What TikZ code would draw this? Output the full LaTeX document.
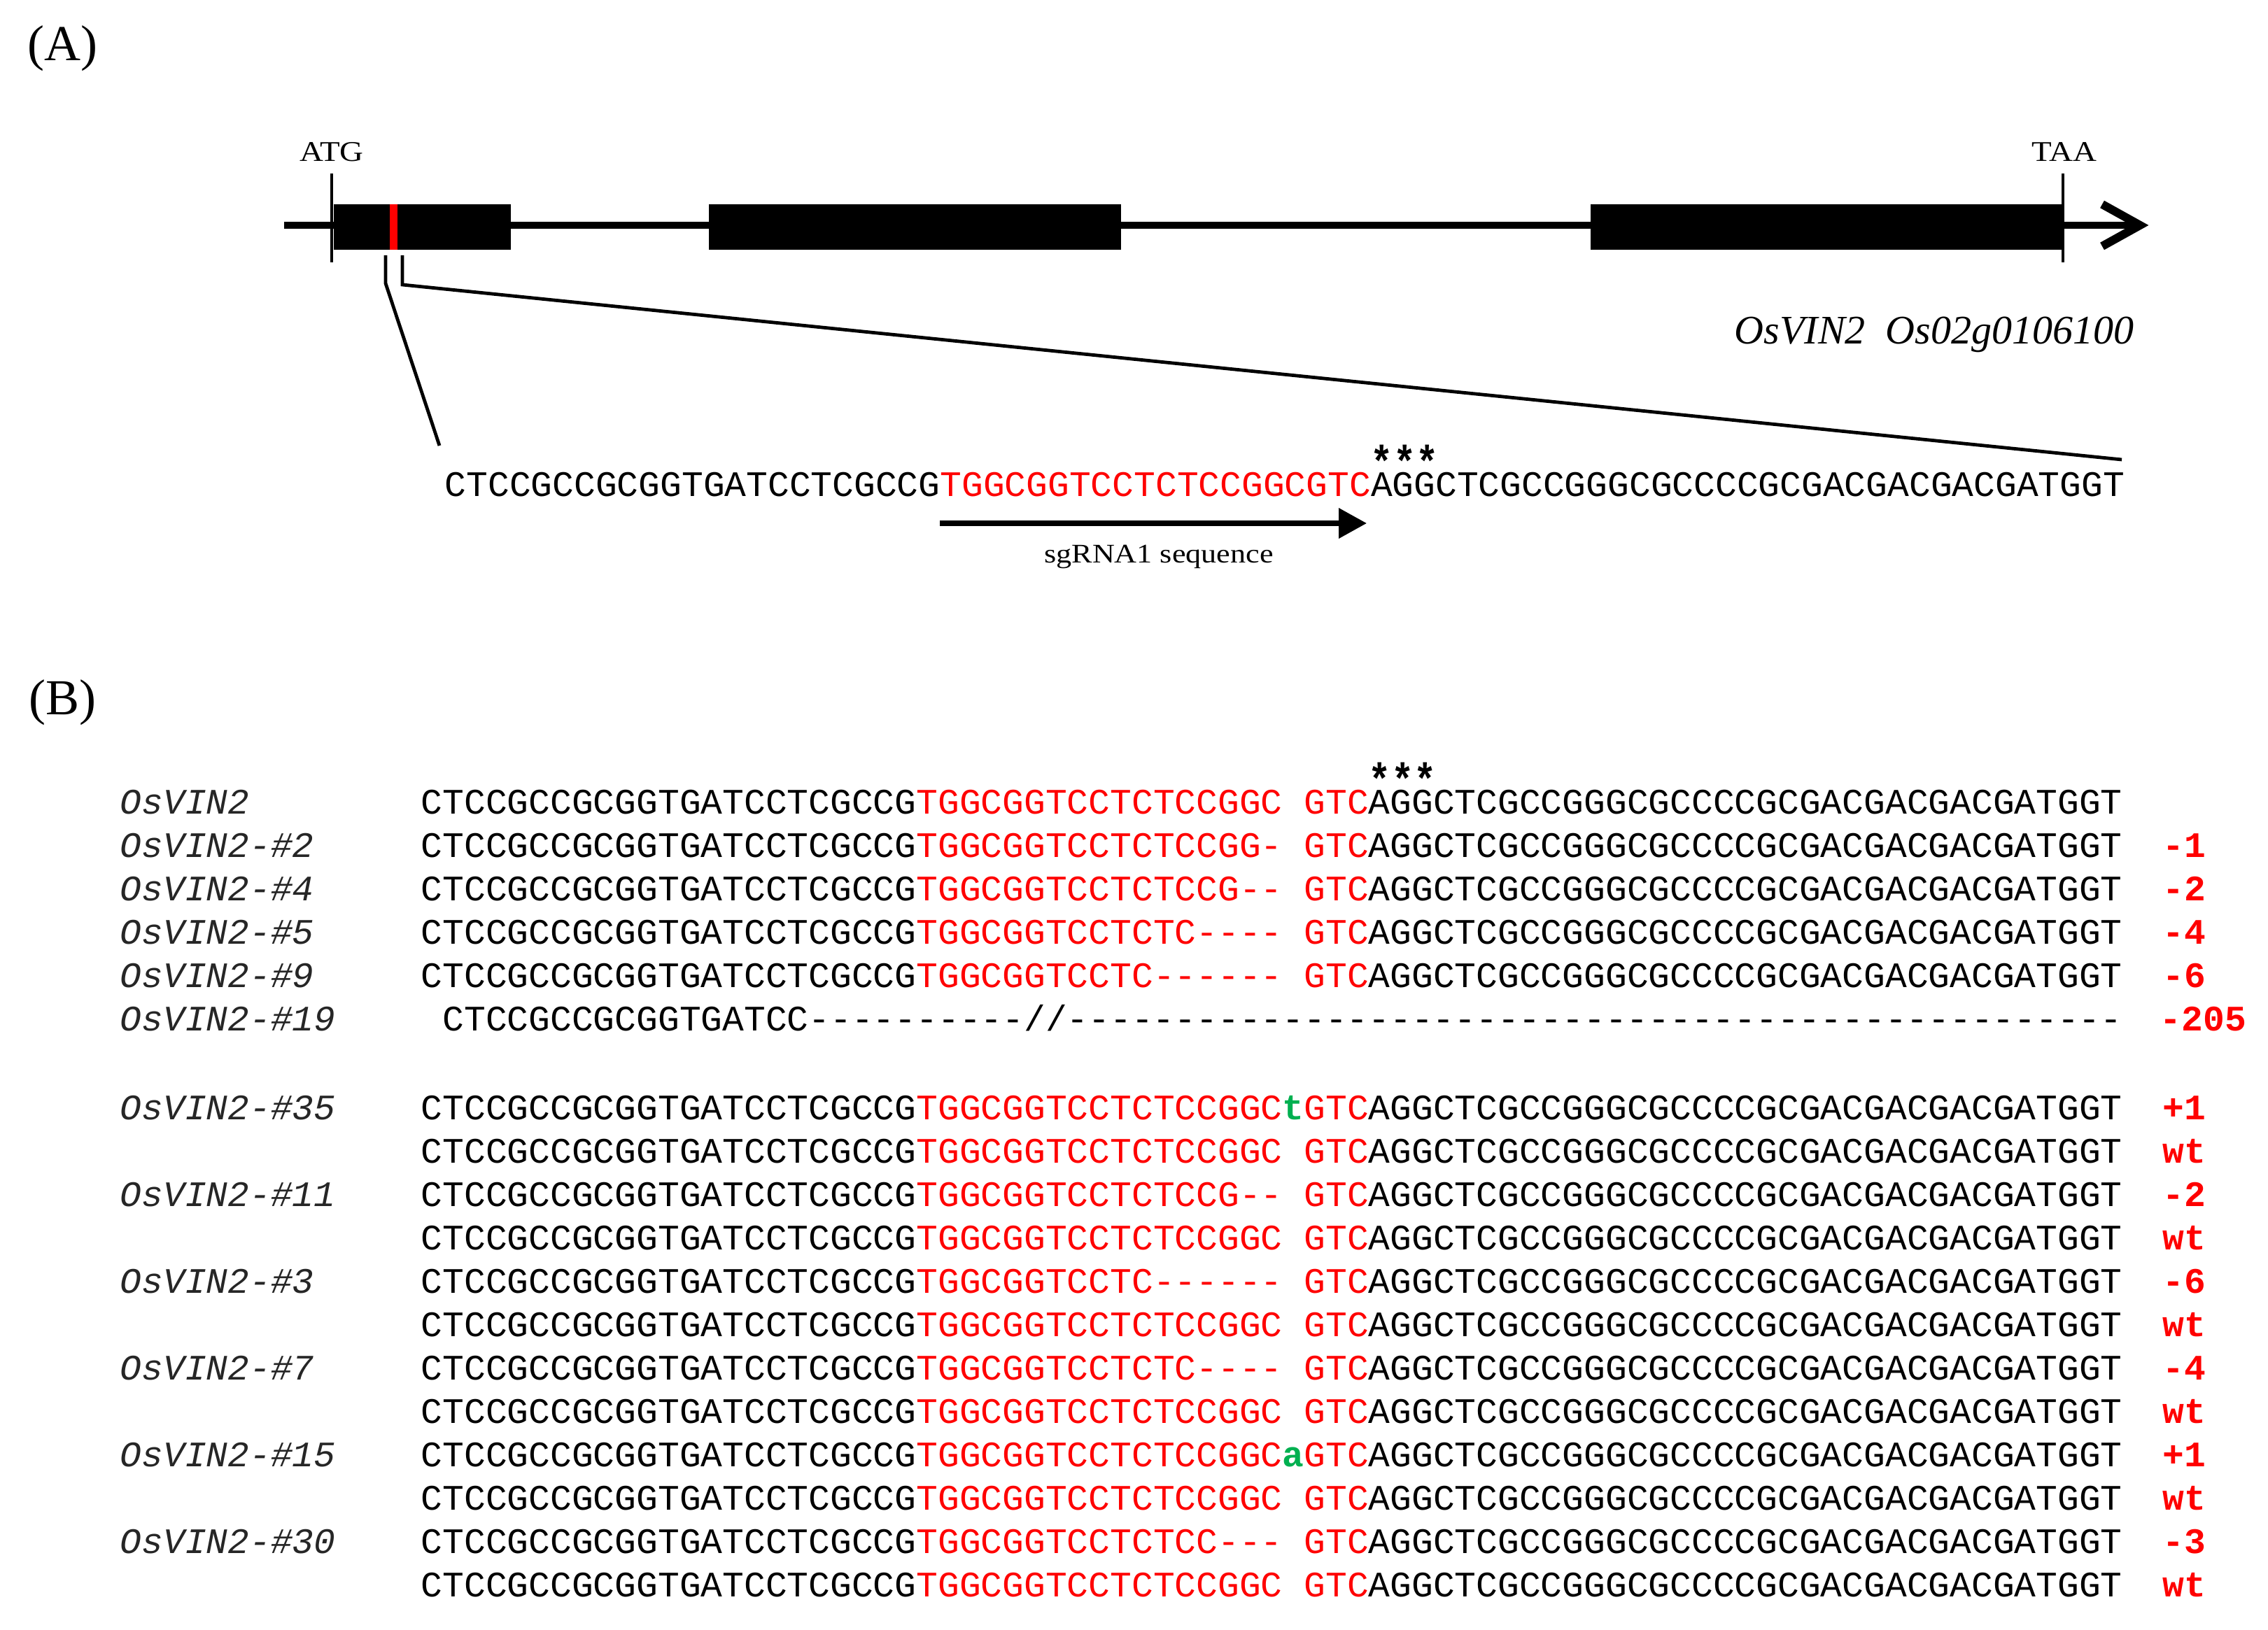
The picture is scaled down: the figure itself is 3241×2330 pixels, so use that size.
\documentclass[tikz,border=0pt]{standalone}
\usepackage{fontspec}
\usepackage{graphicx}
\setmainfont{Liberation Serif}
\setmonofont{Liberation Mono}
\newfontfamily\serifwide[FakeStretch=1.15]{Liberation Serif}
\usetikzlibrary{arrows.meta}
\definecolor{seqred}{RGB}{255,0,0}
\definecolor{insgreen}{RGB}{0,176,80}
\newcommand\Rd[1]{\textcolor{seqred}{#1}}
\newcommand\Gn[1]{\textcolor{insgreen}{\bfseries #1}}
\newcommand\gap{\hphantom{C}}
\newcommand\dsh{\mbox{-}}
\newcommand\dashes[1]{\foreach \i in {1,...,#1}{\dsh}}
\newcommand\seqpre{CTCCGCCGCGGTGATCCTCGCCG}
\newcommand\seqpost{AGGCTCGCCGGGCGCCCCGCGACGACGACGATGGT}
\newcommand\seqrow[1]{\seqpre\Rd{#1}\Rd{GTC}\seqpost}
\newcommand\stars{\scalebox{1.05}[1.25]{***}}
\begin{document}
\begin{tikzpicture}[x=0.25pt,y=-0.25pt,
  seq/.style={font=\ttfamily\fontsize{12.82pt}{14pt}\selectfont, anchor=base west, inner sep=0pt},
  lname/.style={font=\ttfamily\itshape\fontsize{12.82pt}{14pt}\selectfont, anchor=base west, inner sep=0pt, text=black!85},
  mut/.style={font=\ttfamily\bfseries\fontsize{12.82pt}{14pt}\selectfont, anchor=base west, inner sep=0pt, text=seqred},
  star/.style={font=\ttfamily\bfseries\fontsize{12.82pt}{14pt}\selectfont, anchor=base west, inner sep=0pt},
  small/.style={font=\serifwide\fontsize{10.2pt}{12pt}\selectfont, anchor=base, inner sep=0pt},
  sgstyle/.style={font=\serifwide\fontsize{9.6pt}{11pt}\selectfont, anchor=base, inner sep=0pt},
  panel/.style={font=\fontsize{18pt}{20pt}\selectfont, anchor=base west, inner sep=0pt},
  exon/.style={fill=black},
  tick/.style={line width=1pt},
  zoomline/.style={line width=1.2pt}]
\useasboundingbox (0,0) rectangle (3241,2330);

% panel labels
\node[panel] (pA) at (39,87) {(A)};
\node[panel] (pB) at (41,1021) {(B)};

% gene structure
\coordinate (bbL) at (406,322);
\coordinate (bbR) at (3056,322);
\draw[line width=2.6pt] (bbL) -- (bbR);
\draw[line width=3pt, line join=miter] (3004,292) -- (3058,322) -- (3004,352);
\fill[exon] (477,292) rectangle (730,357);
\fill[exon] (1013,292) rectangle (1602,357);
\fill[exon] (2273,292) rectangle (2946,357);
\fill[seqred] (557,292) rectangle (568,357);
\coordinate (atgT) at (474,248);
\coordinate (atgB) at (474,375);
\coordinate (taaT) at (2948,248);
\coordinate (taaB) at (2948,375);
\draw[tick] (atgT) -- (atgB);
\draw[tick] (taaT) -- (taaB);
\node[small] (atg) at (474,231) {ATG};
\node[small] (taa) at (2950,231) {TAA};
\node[font=\itshape\fontsize{14.5pt}{16pt}\selectfont, anchor=base, inner sep=0pt] (gname) at (2764,492) {OsVIN2\ \ Os02g0106100};

% zoom lines
\coordinate (zl1) at (551,365);
\coordinate (zl2) at (551,405);
\coordinate (zl3) at (628,637);
\coordinate (zr1) at (575,365);
\coordinate (zr2) at (575,407);
\coordinate (zr3) at (3032,657);
\draw[zoomline] (zl1) -- (zl2) -- (zl3);
\draw[zoomline] (zr1) -- (zr2) -- (zr3);

% panel A sequence
\node[seq] (seqA) at (635,710) {\seqpre\Rd{TGGCGGTCCTCTCCGGCGTC}\seqpost};
\node[star] (starA) at (1958,683) {\stars};
\coordinate (sgL) at (1343,748);
\coordinate (sgR) at (1953,748);
\draw[line width=1.8pt, -{Triangle[length=10pt,width=10.5pt]}] (sgL) -- (sgR);
\node[sgstyle] (sgtext) at (1656,805) {sgRNA1 sequence};

% panel B
\node[star] (starB) at (1955,1136) {\stars};

\node[lname] (n0) at (171,1163) {OsVIN2};
\node[seq] (r0) at (601,1163) {\seqrow{TGGCGGTCCTCTCCGGC\gap}};

\node[lname] (n1) at (171,1225) {OsVIN2-\#2};
\node[seq] (r1) at (601,1225) {\seqrow{TGGCGGTCCTCTCCGG\dashes{1}\gap}};
\node[mut] (m1) at (3090,1225) {-1};

\node[lname] (n2) at (171,1287) {OsVIN2-\#4};
\node[seq] (r2) at (601,1287) {\seqrow{TGGCGGTCCTCTCCG\dashes{2}\gap}};
\node[mut] (m2) at (3090,1287) {-2};

\node[lname] (n3) at (171,1349) {OsVIN2-\#5};
\node[seq] (r3) at (601,1349) {\seqrow{TGGCGGTCCTCTC\dashes{4}\gap}};
\node[mut] (m3) at (3090,1349) {-4};

\node[lname] (n4) at (171,1411) {OsVIN2-\#9};
\node[seq] (r4) at (601,1411) {\seqrow{TGGCGGTCCTC\dashes{6}\gap}};
\node[mut] (m4) at (3090,1411) {-6};

\node[lname] (n5) at (171,1473) {OsVIN2-\#19};
\node[seq] (r5) at (601,1473) {\gap CTCCGCCGCGGTGATCC\dashes{10}//\dashes{49}};
\node[mut] (m5) at (3086,1473) {-205};

% group 2
\node[lname] (n6) at (171,1600) {OsVIN2-\#35};
\node[seq] (r6) at (601,1600) {\seqrow{TGGCGGTCCTCTCCGGC\Gn{t}}};
\node[mut] (m6) at (3090,1600) {+1};
\node[seq] (r7) at (601,1662) {\seqrow{TGGCGGTCCTCTCCGGC\gap}};
\node[mut] (m7) at (3090,1662) {wt};

\node[lname] (n8) at (171,1724) {OsVIN2-\#11};
\node[seq] (r8) at (601,1724) {\seqrow{TGGCGGTCCTCTCCG\dashes{2}\gap}};
\node[mut] (m8) at (3090,1724) {-2};
\node[seq] (r9) at (601,1786) {\seqrow{TGGCGGTCCTCTCCGGC\gap}};
\node[mut] (m9) at (3090,1786) {wt};

\node[lname] (n10) at (171,1848) {OsVIN2-\#3};
\node[seq] (r10) at (601,1848) {\seqrow{TGGCGGTCCTC\dashes{6}\gap}};
\node[mut] (m10) at (3090,1848) {-6};
\node[seq] (r11) at (601,1910) {\seqrow{TGGCGGTCCTCTCCGGC\gap}};
\node[mut] (m11) at (3090,1910) {wt};

\node[lname] (n12) at (171,1972) {OsVIN2-\#7};
\node[seq] (r12) at (601,1972) {\seqrow{TGGCGGTCCTCTC\dashes{4}\gap}};
\node[mut] (m12) at (3090,1972) {-4};
\node[seq] (r13) at (601,2034) {\seqrow{TGGCGGTCCTCTCCGGC\gap}};
\node[mut] (m13) at (3090,2034) {wt};

\node[lname] (n14) at (171,2096) {OsVIN2-\#15};
\node[seq] (r14) at (601,2096) {\seqrow{TGGCGGTCCTCTCCGGC\Gn{a}}};
\node[mut] (m14) at (3090,2096) {+1};
\node[seq] (r15) at (601,2158) {\seqrow{TGGCGGTCCTCTCCGGC\gap}};
\node[mut] (m15) at (3090,2158) {wt};

\node[lname] (n16) at (171,2220) {OsVIN2-\#30};
\node[seq] (r16) at (601,2220) {\seqrow{TGGCGGTCCTCTCC\dashes{3}\gap}};
\node[mut] (m16) at (3090,2220) {-3};
\node[seq] (r17) at (601,2282) {\seqrow{TGGCGGTCCTCTCCGGC\gap}};
\node[mut] (m17) at (3090,2282) {wt};
\end{tikzpicture}
\end{document}
